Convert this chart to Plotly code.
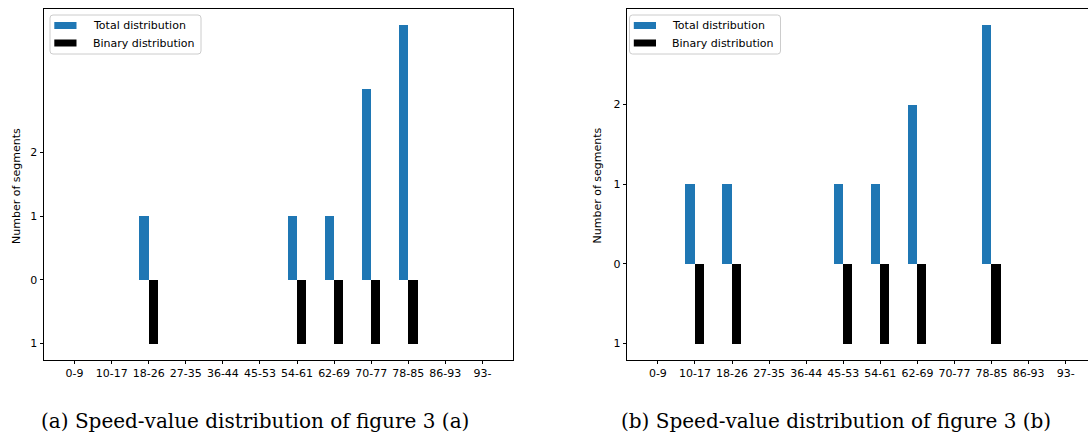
import plotly.graph_objects as go

# ---- data ----
categories = ["0-9", "10-17", "18-26", "27-35", "36-44", "45-53",
              "54-61", "62-69", "70-77", "78-85", "86-93", "93-"]
total_a = [0, 0, 1, 0, 0, 0, 1, 1, 3, 4, 0, 0]
binary_a = [0, 0, 1, 0, 0, 0, 1, 1, 1, 1, 0, 0]
total_b = [0, 1, 1, 0, 0, 1, 1, 2, 0, 3, 0, 0]
binary_b = [0, 1, 1, 0, 0, 1, 1, 1, 0, 1, 0, 0]
y_tick_vals = [-1, 0, 1, 2]
y_tick_text = ["1", "0", "1", "2"]
series_names = ["Total distribution", "Binary distribution"]
y_title = "Number of segments"
captions = ["(a) Speed-value distribution of figure 3 (a)",
            "(b) Speed-value distribution of figure 3 (b)"]

BLUE = "#1f77b4"
BLACK = "#000000"
COLORS = [BLUE, BLACK]
W = 0.25
FONT = "DejaVu Sans"
FW, FH = 1088, 435

idx = list(range(len(categories)))

fig = go.Figure()

def add_pair(total, binary, xa, ya):
    fig.add_trace(go.Bar(
        x=[i - W / 2 for i in idx], y=total, width=W,
        marker=dict(color=BLUE, line=dict(width=0)),
        name=series_names[0], xaxis=xa, yaxis=ya, showlegend=False))
    fig.add_trace(go.Bar(
        x=[i + W / 2 for i in idx], y=[-v for v in binary], width=W,
        marker=dict(color=BLACK, line=dict(width=0)),
        name=series_names[1], xaxis=xa, yaxis=ya, showlegend=False))

add_pair(total_a, binary_a, "x", "y")
add_pair(total_b, binary_b, "x2", "y2")

y_dom = [1 - 359.5 / FH, 1 - 9 / FH]

axis_common = dict(
    showline=True, linecolor="#000000", linewidth=1,
    ticks="outside", ticklen=3.5, tickwidth=1, tickcolor="#000000",
    showgrid=False, zeroline=False,
    tickfont=dict(family=FONT, size=11, color="#000000"),
)
xa_common = dict(axis_common, tickmode="array", tickvals=idx, ticktext=categories)
ya_common = dict(axis_common, tickmode="array", tickvals=y_tick_vals, ticktext=y_tick_text)

unit = (513 - 44) / 12.65
right_end = (FW - 627.3) / unit - 0.825

fig.update_layout(
    width=FW, height=FH,
    margin=dict(l=0, r=0, t=0, b=0),
    paper_bgcolor="white", plot_bgcolor="white",
    barmode="overlay", bargap=0, showlegend=False,
    font=dict(family=FONT, size=11, color="#000000"),
    xaxis=dict(xa_common, domain=[44 / FW, 513 / FW], range=[-0.825, 11.825],
               mirror=True, anchor="y"),
    yaxis=dict(ya_common, domain=y_dom, range=[-1.25, 4.25], mirror=True, anchor="x"),
    xaxis2=dict(xa_common, domain=[627.3 / FW, 1.0], range=[-0.825, right_end],
                mirror=True, anchor="y2"),
    yaxis2=dict(ya_common, domain=y_dom, range=[-1.2, 3.2], mirror=False, anchor="x2"),
)

def px(x):
    return x / FW

def py(y):
    return 1 - y / FH

# y-axis titles
for cx in [17, 597.5]:
    fig.add_annotation(
        x=px(cx), y=py(186), xref="paper", yref="paper", text=y_title,
        textangle=-90, showarrow=False, xanchor="center", yanchor="middle",
        font=dict(family=FONT, size=11, color="#000000"))

# legends (matplotlib-style boxes)
def add_legend(x0):
    x1, y0, y1, r = x0 + 151, 15, 54, 3
    path = (f"M {px(x0 + r)},{py(y0)} L {px(x1 - r)},{py(y0)} "
            f"Q {px(x1)},{py(y0)} {px(x1)},{py(y0 + r)} "
            f"L {px(x1)},{py(y1 - r)} Q {px(x1)},{py(y1)} {px(x1 - r)},{py(y1)} "
            f"L {px(x0 + r)},{py(y1)} Q {px(x0)},{py(y1)} {px(x0)},{py(y1 - r)} "
            f"L {px(x0)},{py(y0 + r)} Q {px(x0)},{py(y0)} {px(x0 + r)},{py(y0)} Z")
    fig.add_shape(type="path", path=path, xref="paper", yref="paper",
                  line=dict(color="#cccccc", width=1), fillcolor="rgba(255,255,255,0.8)",
                  layer="above")
    for k, (name, col) in enumerate(zip(series_names, COLORS)):
        cy = 25.5 + 17.5 * k
        fig.add_shape(type="rect", xref="paper", yref="paper",
                      x0=px(x0 + 4.3), x1=px(x0 + 26.5),
                      y0=py(cy - 3.5), y1=py(cy + 3.5),
                      fillcolor=col, line=dict(width=0), layer="above")
        fig.add_annotation(
            x=px(x0 + 40.5), y=py(cy), xref="paper", yref="paper", text=name,
            showarrow=False, xanchor="left", yanchor="middle",
            font=dict(family=FONT, size=11, color="#000000"))

add_legend(50)
add_legend(629.5)

for cx, text in zip([255, 836], captions):
    fig.add_annotation(
        x=px(cx), y=py(421), xref="paper", yref="paper",
        text=text, showarrow=False, xanchor="center", yanchor="middle",
        font=dict(family="DejaVu Serif", size=20, color="#000000"))

fig.write_html("out.html")
